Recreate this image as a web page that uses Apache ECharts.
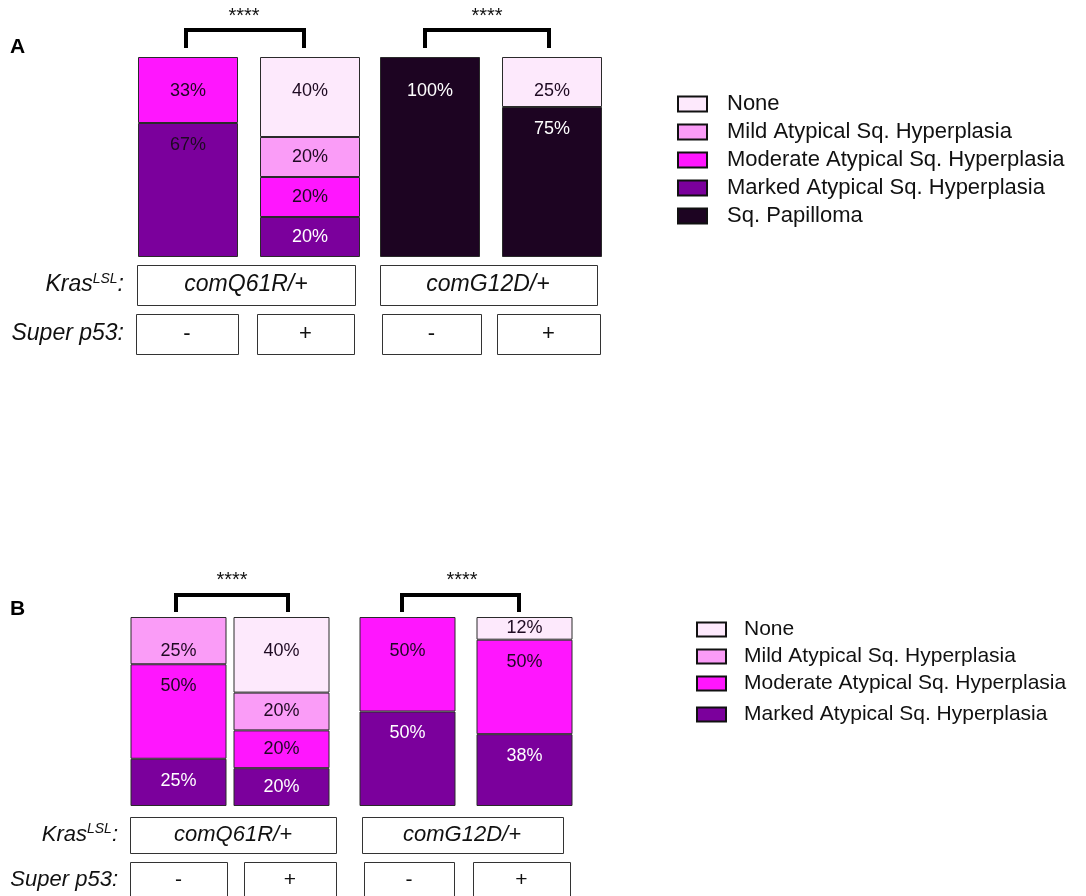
<!DOCTYPE html>
<html><head><meta charset="utf-8">
<script src="https://cdn.jsdelivr.net/npm/echarts@6/dist/echarts.min.js"></script>
<style>html,body{margin:0;padding:0;background:#fff}#c{width:1086px;height:896px}</style>
</head><body><div id="c"></div>
<script>
// ---------- DATA ----------
const categories = ['None', 'Mild Atypical Sq. Hyperplasia', 'Moderate Atypical Sq. Hyperplasia', 'Marked Atypical Sq. Hyperplasia', 'Sq. Papilloma'];
const genotypes = ['comQ61R/+', 'comG12D/+'];
const p53States = ['-', '+'];
const significance = ['****', '****'];
// Panel A values (% per category, order as in `categories`)
const A_Q61R_minus = [0, 0, 33, 67, 0];
const A_Q61R_plus  = [40, 20, 20, 20, 0];
const A_G12D_minus = [0, 0, 0, 0, 100];
const A_G12D_plus  = [25, 0, 0, 0, 75];
// Panel B values (no papilloma)
const B_Q61R_minus = [0, 25, 50, 25];
const B_Q61R_plus  = [40, 20, 20, 20];
const B_G12D_minus = [0, 0, 50, 50];
const B_G12D_plus  = [12, 0, 50, 38];

// ---------- STYLE / LAYOUT ----------
const colors = ['#fde9fc', '#fa9cf7', '#ff16fe', '#7b009c', '#1d0422'];
const FONT = 'Liberation Sans, Arial, sans-serif';
const DARK = '#1e0a22';
const panels = [
  { key: 'A', nCat: 5, groups: [[A_Q61R_minus, A_Q61R_plus], [A_G12D_minus, A_G12D_plus]],
    grids: [{ left: 127, width: 244 }, { left: 369, width: 244 }], top: 57, height: 200, barWidth: 100,
    darkOverride: [[0, 0, 3]] },
  { key: 'B', nCat: 4, groups: [[B_Q61R_minus, B_Q61R_plus], [B_G12D_minus, B_G12D_plus]],
    grids: [{ left: 127, width: 206 }, { left: 349, width: 234 }], top: 617, height: 189, barWidth: 96,
    darkOverride: [] }
];
const LABEL_FS = 18;

const grid = [], xAxis = [], yAxis = [], series = [];
panels.forEach((p, pi) => {
  p.groups.forEach((bars, gi) => {
    const idx = grid.length;
    grid.push({ left: p.grids[gi].left, width: p.grids[gi].width, top: p.top, height: p.height });
    xAxis.push({ type: 'category', gridIndex: idx, data: p53States, show: false });
    yAxis.push({ type: 'value', gridIndex: idx, min: 0, max: 100, show: false });
    for (let c = p.nCat - 1; c >= 0; c--) {
      const data = bars.map((vals, bi) => {
        const v = vals[c];
        if (!v) return null;
        const h = v / 100 * p.height;
        // is this the top-most non-empty segment of the bar?
        let isTop = true;
        for (let k = 0; k < c; k++) if (vals[k]) isTop = false;
        const centerOff = isTop ? Math.min(34, h - 12) : Math.min(h / 2, 22);
        const off = centerOff - LABEL_FS / 2;
        const isDarkSeg = c >= 3;
        const override = p.darkOverride.some(o => o[0] === gi && o[1] === bi && o[2] === c);
        return { value: v, label: { distance: Math.max(off, 1), color: (isDarkSeg && !override) ? '#ffffff' : DARK } };
      });
      series.push({
        type: 'bar', name: categories[c], xAxisIndex: idx, yAxisIndex: idx,
        stack: 's' + idx, barWidth: p.barWidth, data: data,
        itemStyle: { color: colors[c], borderColor: '#2a2a2a', borderWidth: 1 },
        label: { show: true, position: 'insideTop', formatter: '{c}%', fontSize: LABEL_FS, fontFamily: FONT },
        emphasis: { disabled: true }, animation: false
      });
    }
  });
});

// ---------- GRAPHICS (annotations / table cells) ----------
const g = [];
function txt(x, y, text, opts) {
  g.push({ type: 'text', x: x, y: y, style: Object.assign({ text: text, fill: '#111', font: '18px ' + FONT, textAlign: 'center', textVerticalAlign: 'middle' }, opts || {}) });
}
function box(x1, y1, x2, y2) {
  g.push({ type: 'rect', shape: { x: x1 + 0.5, y: y1 + 0.5, width: x2 - x1, height: y2 - y1 }, style: { fill: '#fff', stroke: '#333', lineWidth: 1 } });
}
function bracket(x1, x2, yTop, yBot) {
  g.push({ type: 'polyline', shape: { points: [[x1, yBot], [x1, yTop], [x2, yTop], [x2, yBot]] }, style: { stroke: '#000', lineWidth: 4, fill: null } });
}
// Panel letters
txt(10, 47, 'A', { textAlign: 'left', font: 'bold 21px ' + FONT, fill: '#000' });
txt(10, 609, 'B', { textAlign: 'left', font: 'bold 21px ' + FONT, fill: '#000' });
// Panel A significance
bracket(186, 304, 30, 48); txt(244, 16, significance[0], { font: '20px ' + FONT });
bracket(425, 549, 30, 48); txt(487, 16, significance[1], { font: '20px ' + FONT });
// Panel B significance
bracket(176, 288, 595, 612); txt(232, 580, significance[0], { font: '20px ' + FONT });
bracket(402, 519, 595, 612); txt(462, 580, significance[1], { font: '20px ' + FONT });

function krasRich(fs) {
  return { a: { fontSize: fs, fontStyle: 'italic', fontFamily: FONT, fill: '#111' },
           s: { fontSize: Math.round(fs * 0.62), fontStyle: 'italic', fontFamily: FONT, fill: '#111', verticalAlign: 'top', padding: [0, 0, Math.round(fs * 0.5), 0] } };
}
// Panel A table
g.push({ type: 'text', x: 124, y: 285, style: { text: '{a|Kras}{s|LSL}{a|:}', rich: krasRich(23), textAlign: 'right', textVerticalAlign: 'middle' } });
txt(124, 334, 'Super p53:', { textAlign: 'right', font: 'italic 23px ' + FONT });
box(137, 265, 355, 305); txt(246, 285, genotypes[0], { font: 'italic 23px ' + FONT });
box(380, 265, 597, 305); txt(488, 285, genotypes[1], { font: 'italic 23px ' + FONT });
[[136, 238], [257, 354], [382, 481], [497, 600]].forEach((b, i) => { box(b[0], 314, b[1], 354); txt((b[0] + b[1]) / 2, 334, p53States[i % 2], { font: '22px ' + FONT }); });
// Panel B table
g.push({ type: 'text', x: 118, y: 835, style: { text: '{a|Kras}{s|LSL}{a|:}', rich: krasRich(22), textAlign: 'right', textVerticalAlign: 'middle' } });
txt(118, 880, 'Super p53:', { textAlign: 'right', font: 'italic 22px ' + FONT });
box(130, 817, 336, 853); txt(233, 835, genotypes[0], { font: 'italic 22px ' + FONT });
box(362, 817, 563, 853); txt(462, 835, genotypes[1], { font: 'italic 22px ' + FONT });
[[130, 227], [244, 336], [364, 454], [473, 570]].forEach((b, i) => { box(b[0], 862, b[1], 900); txt((b[0] + b[1]) / 2, 880, p53States[i % 2], { font: '21px ' + FONT }); });

function legendCfg(data, left, top, fs, w, h, gap, padL) {
  return { data: data, orient: 'vertical', left: left, top: top, icon: 'rect', itemWidth: w, itemHeight: h, itemGap: gap,
    selectedMode: false, itemStyle: { borderColor: '#111', borderWidth: 2 },
    textStyle: { fontSize: fs, lineHeight: fs, fontFamily: FONT, color: '#111', padding: [0, 0, 0, padL] } };
}
const option = {
  backgroundColor: '#fff',
  animation: false,
  grid: grid, xAxis: xAxis, yAxis: yAxis, series: series,
  legend: [
    legendCfg(categories, 672, 88, 22, 29, 15, 6, 15),
    legendCfg(categories.slice(0, 3), 691, 614, 21, 29, 14, 6, 13),
    legendCfg(categories.slice(3, 4), 691, 699, 21, 29, 14, 6, 13)
  ],
  graphic: g
};
const chart = echarts.init(document.getElementById('c'), null, { renderer: 'canvas' });
chart.setOption(option);
</script></body></html>
